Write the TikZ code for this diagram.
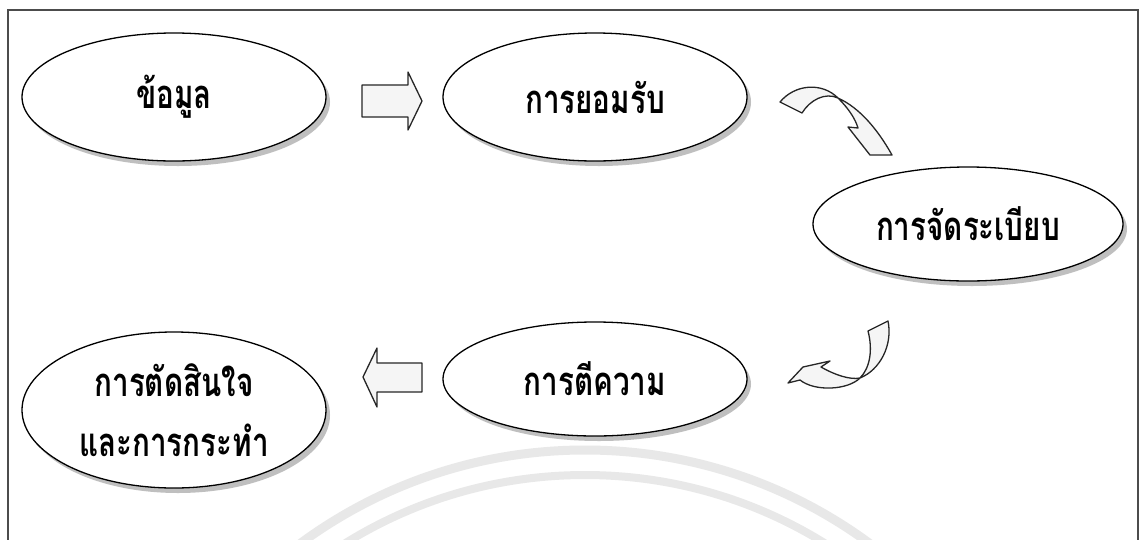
\documentclass[tikz,border=0pt]{standalone}
\usepackage{fontspec}
\newfontfamily\thaifont[Script=Thai, FakeStretch=0.74]{Loma}
\usetikzlibrary{shapes.geometric}
\tikzset{
  bub/.style={ellipse, draw=black, line width=1.3pt, fill=white, inner sep=0pt,
    font=\thaifont\bfseries\fontsize{40}{60}\selectfont, align=center},
  shade/.style={ellipse, fill=black!25, draw=none, inner sep=0pt},
  blk/.style={draw=black!85, line width=1.3pt, fill=black!4, line join=round},
  wm/.style={draw=black!9, line width=9pt},
}
\begin{document}
\begin{tikzpicture}[x=1pt,y=-1pt]
\useasboundingbox (0,0) rectangle (1144,539);
\fill[white] (0,0) rectangle (1144,539);
% watermark
\begin{scope}
\clip (0,0) rectangle (1144,539);
\draw[wm] (585,930) circle (480);
\draw[wm, line width=8pt] (585,930) circle (455);
\draw[black!70, line width=1.5pt] (8,10) rectangle (1138,570);
\end{scope}
% shadows
\node[shade, minimum width=304pt, minimum height=128pt] at (178,102) {};
\node[shade, minimum width=304pt, minimum height=128pt] at (599,102) {};
\node[shade, minimum width=310pt, minimum height=114pt] at (972,229) {};
\node[shade, minimum width=304pt, minimum height=114pt] at (599,384) {};
\node[shade, minimum width=304pt, minimum height=156pt] at (178,415) {};
% ellipses
\node[bub, minimum width=304pt, minimum height=128pt] (info) at (174,97) {ข้อมูล};
\node[bub, minimum width=304pt, minimum height=128pt] (accept) at (595,97) {การยอมรับ};
\node[bub, minimum width=310pt, minimum height=114pt] (organize) at (968,224) {การจัดระเบียบ};
\node[bub, minimum width=304pt, minimum height=114pt] (interpret) at (595,379) {การตีความ};
\node[bub, minimum width=304pt, minimum height=156pt] (decide) at (174,410) {การตัดสินใจ\\และการกระทำ};
% block arrows
\draw[blk] (362,85) -- (408,85) -- (408,72) -- (422,101) -- (408,130) -- (408,117) -- (362,117) -- cycle;
\draw[blk] (422,363) -- (377,363) -- (377,348) -- (363,377) -- (377,407) -- (377,392) -- (422,392) -- cycle;
% curved arrow 1
\draw[blk] (780,102) .. controls (795,84) and (822,82) .. (838,98)
  .. controls (848,108) and (855,118) .. (858,128)
  -- (848,127) -- (870,155) -- (892,155)
  .. controls (878,130) and (860,108) .. (838,98)
  .. controls (825,92) and (810,100) .. (802,113) -- cycle;
% curved arrow 2
\draw[blk] (888,321) -- (868,331)
  .. controls (873,350) and (870,368) .. (860,378)
  .. controls (848,390) and (815,392) .. (800,380)
  -- (788,383) -- (803,367) -- (830,361) -- (821,367)
  .. controls (835,375) and (850,380) .. (860,378)
  .. controls (880,370) and (893,345) .. (888,321) -- cycle;
\end{tikzpicture}
\end{document}
